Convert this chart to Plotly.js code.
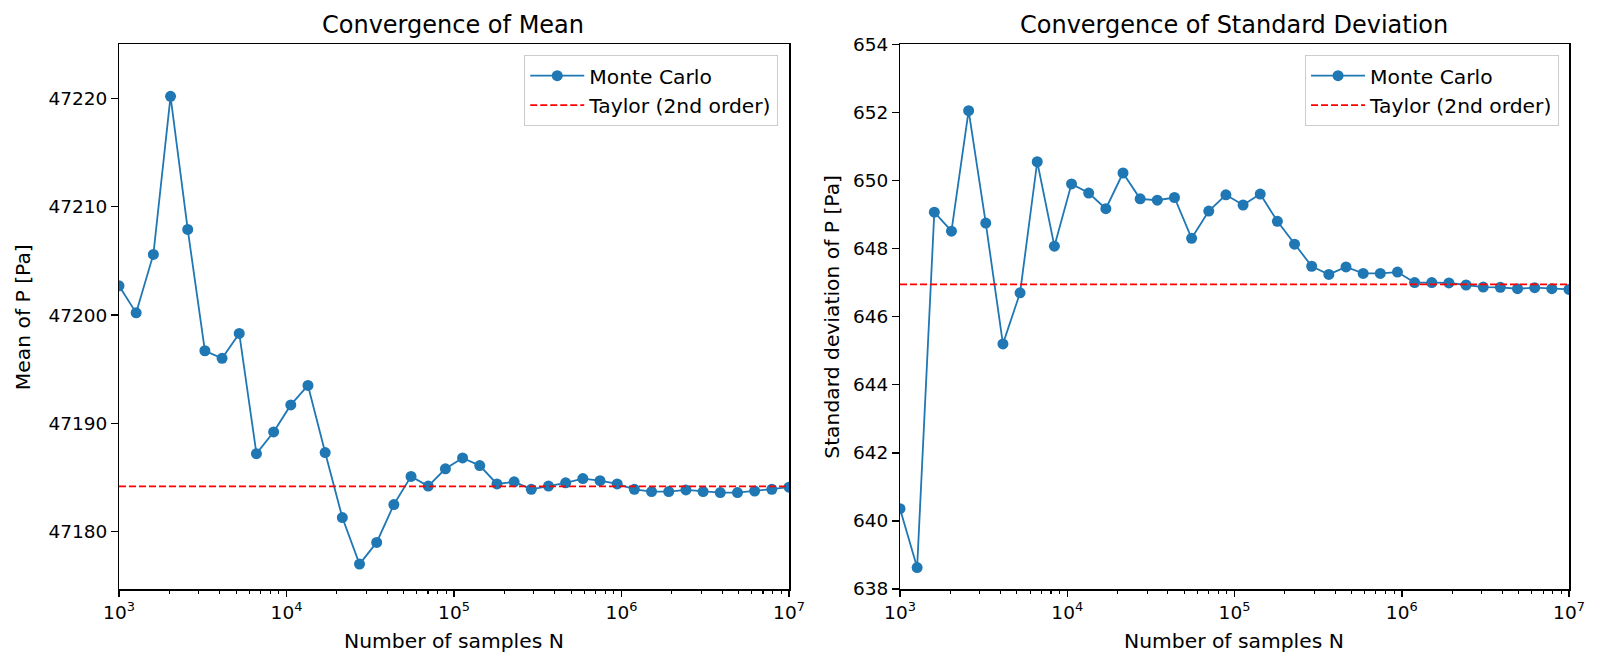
<!DOCTYPE html>
<html>
<head>
<meta charset="utf-8">
<script src="https://cdn.plot.ly/plotly-3.0.1.min.js"></script>
<style>
  html, body { margin: 0; padding: 0; background: #fff; }
  #graph { width: 1600px; height: 664px; }
</style>
</head>
<body>
<div id="graph"></div>
<script>
// sample sizes N (40 points, log spaced 1e3 .. 1e7)
var nSamples = [
  1000, 1266, 1604, 2031, 2572, 3257, 4125, 5223, 6615, 8377,
  10608, 13434, 17013, 21544, 27284, 34551, 43755, 55411, 70170, 88862,
  112534, 142510, 180472, 228546, 289427, 366524, 464159, 587802, 744380, 942668,
  1193777, 1511775, 1914482, 2424462, 3070291, 3888155, 4923883, 6235507, 7896523, 10000000
];

// Monte Carlo estimate of mean of P [Pa]
var meanMC = [
  47202.7, 47200.2, 47205.6, 47220.2, 47207.9, 47196.7, 47196.0, 47198.3, 47187.2, 47189.2,
  47191.7, 47193.5, 47187.3, 47181.3, 47177.0, 47179.0, 47182.5, 47185.1, 47184.2, 47185.8,
  47186.8, 47186.1, 47184.4, 47184.6, 47183.9, 47184.2, 47184.5, 47184.9, 47184.7, 47184.4,
  47183.9, 47183.7, 47183.7, 47183.85, 47183.7, 47183.6, 47183.6, 47183.75, 47183.9, 47184.1
];

// Monte Carlo estimate of standard deviation of P [Pa]
var stdMC = [
  640.36, 638.63, 649.07, 648.51, 652.05, 648.75, 645.20, 646.70, 650.55, 648.07,
  649.90, 649.63, 649.17, 650.22, 649.46, 649.42, 649.50, 648.30, 649.10, 649.58,
  649.28, 649.60, 648.80, 648.13, 647.48, 647.24, 647.46, 647.27, 647.27, 647.31,
  647.00, 647.00, 646.99, 646.93, 646.87, 646.86, 646.82, 646.85, 646.82, 646.80
];

// Taylor (2nd order) estimates
var taylorMean = 47184.17;
var taylorStd = 646.95;

var xRange = [1000, 10000000];
var xTickVals = [1e3, 1e4, 1e5, 1e6, 1e7];
var xTickText = ['10<sup>3</sup>', '10<sup>4</sup>', '10<sup>5</sup>', '10<sup>6</sup>', '10<sup>7</sup>'];

//minor ticks 2..9 in each decade
var minorVals = [];
for (var d = 1e3; d < 1e7; d *= 10) {
  for (var m = 2; m <= 9; m++) minorVals.push(m * d);
}

var blue = '#1f77b4';
var font = 'DejaVu Sans, sans-serif';

var traceMean = {
  x: nSamples, y: meanMC, xaxis: 'x', yaxis: 'y',
  type: 'scatter', mode: 'lines+markers', name: 'Monte Carlo',
  line: { color: blue, width: 1.8 },
  marker: { color: blue, size: 11 },
  legend: 'legend'
};
var traceMeanTaylor = {
  x: xRange, y: [taylorMean, taylorMean], xaxis: 'x', yaxis: 'y',
  type: 'scatter', mode: 'lines', name: 'Taylor (2nd order)',
  line: { color: 'red', width: 1.8, dash: '7px,3px' },
  legend: 'legend'
};
var traceStd = {
  x: nSamples, y: stdMC, xaxis: 'x2', yaxis: 'y2',
  type: 'scatter', mode: 'lines+markers', name: 'Monte Carlo',
  line: { color: blue, width: 1.8 },
  marker: { color: blue, size: 11 },
  legend: 'legend2'
};
var traceStdTaylor = {
  x: xRange, y: [taylorStd, taylorStd], xaxis: 'x2', yaxis: 'y2',
  type: 'scatter', mode: 'lines', name: 'Taylor (2nd order)',
  line: { color: 'red', width: 1.8, dash: '7px,3px' },
  legend: 'legend2'
};

function xAxis(domain, anchor) {
  return {
    type: 'log', range: [3, 7], domain: domain, anchor: anchor,
    tickmode: 'array', tickvals: xTickVals, ticktext: xTickText,
    ticks: 'outside', ticklen: 6.5, tickwidth: 1.5, tickcolor: '#000',
    minor: { tickmode: 'array', tickvals: minorVals, ticks: 'outside', ticklen: 3.7, tickwidth: 1.1, tickcolor: '#000', showgrid: false },
    showline: true, mirror: true, linecolor: '#000', linewidth: 1.5,
    showgrid: false, zeroline: false,
    tickfont: { family: font, size: 18.5, color: '#000' }
  };
}
function yAxis(domain, anchor, range, dtick, tick0) {
  return {
    range: range, domain: domain, anchor: anchor,
    tickmode: 'linear', dtick: dtick, tick0: tick0, tickformat: 'd',
    ticks: 'outside', ticklen: 6.5, tickwidth: 1.5, tickcolor: '#000',
    showline: true, mirror: true, linecolor: '#000', linewidth: 1.5,
    showgrid: false, zeroline: false,
    tickfont: { family: font, size: 18.5, color: '#000' }
  };
}

var yDom = [0.11295, 0.93328];

function legendBox(x) {
  return {
    x: x, y: 0.9172, xanchor: 'right', yanchor: 'top',
    bgcolor: 'rgba(255,255,255,0.8)', bordercolor: '#cccccc', borderwidth: 1,
    font: { family: font, size: 20.3, color: '#000' },
    itemwidth: 54, tracegroupgap: 0
  };
}

function label(text, x, y, size, angle) {
  return {
    text: text, x: x, y: y, xref: 'paper', yref: 'paper',
    xanchor: 'center', yanchor: 'middle', showarrow: false,
    textangle: angle || 0,
    font: { family: font, size: size, color: '#000' }
  };
}

var layout = {
  width: 1600, height: 664,
  margin: { l: 0, r: 0, t: 0, b: 0 },
  paper_bgcolor: '#fff', plot_bgcolor: '#fff',
  font: { family: font, color: '#000' },
  xaxis: xAxis([0.074375, 0.493125], 'y'),
  yaxis: yAxis(yDom, 'x', [47174.7, 47225.0], 10, 47180),
  xaxis2: xAxis([0.5625, 0.980625], 'y2'),
  yaxis2: yAxis(yDom, 'x2', [638, 654], 2, 638),
  showlegend: true,
  legend: legendBox(0.4864),
  legend2: legendBox(0.9744),
  annotations: [
    label('Convergence of Mean', 0.2831, 0.9623, 24),
    label('Convergence of Standard Deviation', 0.77156, 0.9623, 24),
    label('Number of samples N', 0.28375, 0.0346, 20.3),
    label('Number of samples N', 0.77156, 0.0346, 20.3),
    label('Mean of P [Pa]', 0.01406, 0.52304, 20.3, -90),
    label('Standard deviation of P [Pa]', 0.52, 0.52304, 20.3, -90)
  ]
};

var data = [traceMean, traceMeanTaylor, traceStd, traceStdTaylor];
var config = { staticPlot: true };
Plotly.newPlot('graph', data, layout, config);
</script>
</body>
</html>
